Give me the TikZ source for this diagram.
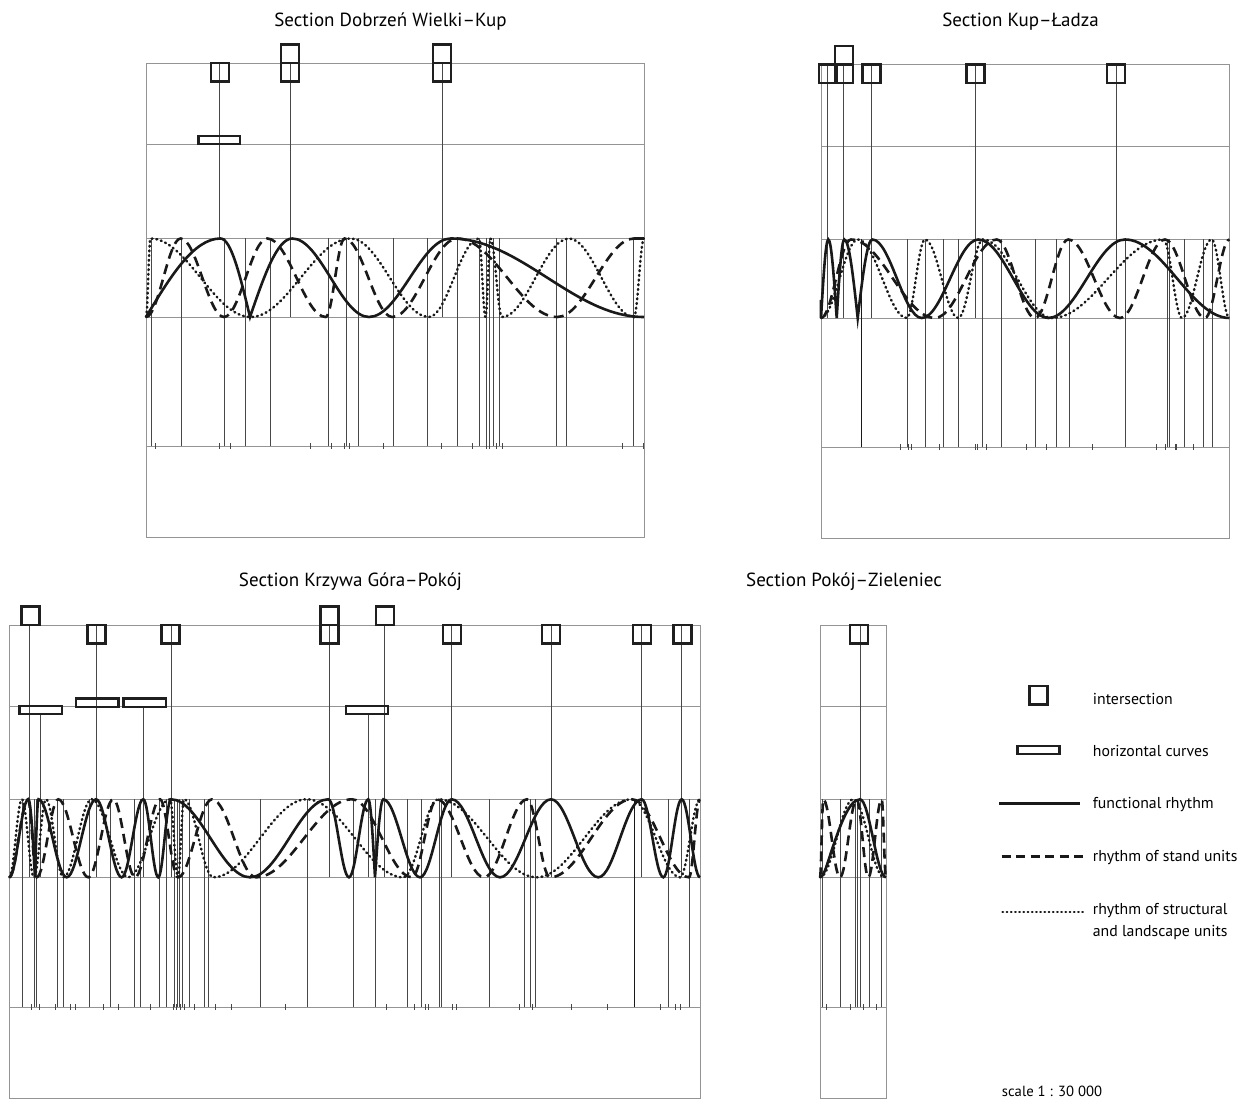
\documentclass[tikz,border=0pt]{standalone}
\usepackage{fontspec}
\setmainfont{PT Sans}
\tikzset{
  frameln/.style={draw=black!42, line width=0.9pt},
  vline/.style={draw=black!72, line width=0.65pt},
  tickln/.style={draw=black!72, line width=0.65pt},
  sqbox/.style={draw=black!88, line width=2.4pt},
  solidc/.style={draw=black!90, line width=2.6pt},
  dashc/.style={draw=black!90, line width=2.6pt, dash pattern=on 10pt off 6pt},
  dotc/.style={draw=black!90, line width=2.5pt, dash pattern=on 0.9pt off 3.8pt, line cap=round},
  ttl/.style={font=\fontsize{19}{22}\selectfont, inner sep=0pt, anchor=base},
  lgt/.style={font=\fontsize{15.8}{19}\selectfont, inner sep=0pt, anchor=base west}
}
% frame: left right top l1 T B base bottom
\newcommand\mypanel[8]{%
  \draw[frameln] (#1,#3) rectangle (#2,#8);
  \foreach \yy in {#4,#5,#6,#7} {\draw[frameln] (#1,\yy) -- (#2,\yy);}
}
\newcommand\mylines[3]{\foreach \xx in {#3} {\draw[vline] (\xx,#1) -- (\xx,#2);}}
\newcommand\myticks[2]{\foreach \xx in {#2} {\draw[tickln] (\xx,{#1-3}) -- (\xx,{#1+3});}}
\newcommand\mysq[2]{\draw[sqbox] ({#1-9},#2) rectangle ({#1+9},{#2+18.5});}
% style, top, bottom, x0, y0, parity(0: first target top), list x/f
\newcommand\mywave[7]{%
  \draw[#1] (#4,#5)
    foreach \x/\f [remember=\x as \px (initially #4), count=\i] in {#7}
    { cos ({\px+\f*(\x-\px)},{(mod(\i+#6,2)==1) ? (#3+\f*(#2-#3)) : (#2+\f*(#3-#2))})
      sin (\x,{(mod(\i+#6,2)==1) ? #2 : #3}) };
}
\begin{document}
\begin{tikzpicture}[x=1pt,y=-1pt]
\useasboundingbox (0,0) rectangle (1245,1099);

% ---------------- titles
\node[ttl] (t1) at (390.5,26.5) {Section Dobrzeń Wielki–Kup};
\node[ttl] (t2) at (1020.5,26.5) {Section Kup–Ładza};
\node[ttl] (t3) at (350.5,586.5) {Section Krzywa Góra–Pokój};
\node[ttl] (t4) at (844,586.5) {Section Pokój–Zieleniec};

% ---------------- panel 1
\mypanel{146}{644}{63}{144}{238.5}{317}{446}{537}
\mylines{238.5}{446}{151.7,181.5,224,245.7,270.7,328.5,346.5,358.8,393.8,427.3,457.5,479.5,486,489.5,493.5,499.5,556.7,566,633}
\mylines{63}{238.5}{219.8}
\mylines{63}{317}{290,442.2}
\myticks{446}{155,219.3,230,310.7,331.7,344,349.3,383,441.3,472.7,486.7,489.3,496.7,502,622,643.3}
\mysq{219.8}{63}
\mysq{290}{63}\mysq{290}{44.5}
\mysq{442.2}{63}\mysq{442.2}{44.5}
\draw[sqbox] (198.3,136) rectangle (240,144);
\mywave{solidc}{238.5}{317}{146}{317}{0}{220.5/0,250/1,292.3/0,369/.5,450.7/.5,644/.5}
\mywave{dashc}{238.5}{317}{146}{317}{0}{180.7/.5,224/.5,267.3/.5,325.7/.5,344.5/.5,392.3/.5,457.3/.5,557.3/.5,634/.5}
\draw[dashc] (634,238.5) -- (644,238.5);
\mywave{dotc}{238.5}{317}{146}{317}{0}{150.5/.5,250.7/.5,350.7/.5,429/.5,479/.5,485.5/.5,490.5/.5,502/.5,569/.5,634/.5,644/.5}

% ---------------- panel 2
\mypanel{821}{1229.5}{64.7}{146}{239.5}{318}{447}{538.3}
\mylines{239.5}{447}{907,925,943.7,958.7,982.3,1001.3,1035.3,1056.3,1069.7,1125.3,1167.7,1169.3,1184,1203.7,1212}
\draw[vline, line width=1pt, draw=black!90] (861.7,239.5) -- (861.7,447);
\mylines{64.7}{318}{827.5,843,871.5,975.5,1116}
\myticks{447}{900,908.3,911.7,939.3,975.7,977.3,986.7,1026,1046.3,1092.7,1156.7,1165.3,1175.3,1176.7,1193.3}
\mysq{828}{64.7}
\mysq{844}{64.7}\mysq{844}{46.2}
\mysq{871.5}{64.7}
\mysq{975.5}{64.7}
\mysq{1116}{64.7}
\mywave{solidc}{239.5}{318}{821}{300}{0}{828.3/0,836.7/1,844.3/0,857.7/1,872.3/0,921.7/.5,978.3/.5,1048.3/.5,1125/.5,1229.5/.5}
\mywave{dashc}{239.5}{318}{821}{318}{0}{851/.5,935/.5,996.7/.5,1035/.5,1068.3/.5,1120/.5,1165/.5,1205/.5,1229.5/.5}
\mywave{dotc}{239.5}{318}{821}{318}{0}{858/.5,906.7/.5,925/.5,958.3/.5,983/.5,1052/.5,1163.3/.5,1182/.5,1211.7/.5,1229.5/.5}

% ---------------- panel 3
\mypanel{9.3}{700}{625}{706}{799.3}{877.3}{1007.3}{1098.3}
\mylines{799.3}{1007.3}{22.8,34.3,36.7,57.7,63.5,89.4,110.7,134.5,140.5,159,166.3,174,177,179.6,182.5,189.6,204,208.5,260,307,353.3,375.7,407,421.7,439,441,489,524.5,530,535.7,668.5,689.3}
\draw[vline, line width=1pt, draw=black!90] (634,799.3) -- (634,1007.3);
\mylines{625}{877.3}{29,96,171,329,384,451.7,551,641.7,681.7}
\mylines{714}{877.3}{40,368.3}
\mylines{706.7}{877.3}{143.3}
\myticks{1007.3}{31,39.2,55.5,70.4,75.8,103.8,118.8,150,173.1,176.7,179.9,184.4,193.9,215.3,231.1,285.6,386.1,414.7,425.1,428.2,452.2,456.3,519.3,532,570.9,607.2,660.6,675.1,680.5}
\mysq{30.3}{606.5}
\mysq{96.5}{625}
\mysq{170.5}{625}
\mysq{329.5}{625}\mysq{329.5}{606.5}
\mysq{385}{606.5}
\mysq{451.8}{625}
\mysq{551}{625}
\mysq{642}{625}
\mysq{682.5}{625}
\draw[sqbox] (19.3,706) rectangle (61.7,714);
\draw[sqbox] (76,698.3) rectangle (118.3,706.7);
\draw[sqbox] (123.3,698.3) rectangle (165.7,706.7);
\draw[sqbox] (345.7,706) rectangle (387.7,714);
\mywave{solidc}{799.3}{877.3}{9.3}{877.3}{0}{28.3/.5,35/1,38.5/0,66.7/.5,96/.5,121.7/.5,143.3/.5,158.3/.5,171/.5,250/.5,328.3/.5,349/.5,368.3/.5,375/1,383.3/0,420/.5,451.7/.5,500/.5,551/.5,598.3/.5,641.7/.5,663.3/.5,681.7/.5,700/.5}
\mywave{dashc}{799.3}{877.3}{9.3}{877.3}{0}{28/.5,36.7/.5,58.3/.5,88.3/.5,113.3/.5,135/.5,160/.5,178/.5,212/.5,256/.5,352/.5,412/.5,437/.5,484/.5,527/.5,550/.5,632/.5,689/.5,700/.5}
\mywave{dotc}{799.3}{877.3}{9.3}{877.3}{0}{22/.5,34/.5,46/.5,63.3/.5,91.7/.5,128.3/.5,170/.5,178/.5,184/.5,213.3/.5,306.7/.5,403.3/.5,438.3/.5,536.7/.5,631.7/.5,680/.5,700/.5}

% ---------------- panel 4
\mypanel{820}{886}{625}{706}{799.3}{877.3}{1007}{1098.3}
\mylines{799.3}{1007}{822.7,840,855,857.3,869,881.7}
\mylines{625}{1007}{860}
\myticks{1007}{826.7,850,863.3,876}
\mysq{858.7}{625}
\mywave{solidc}{799.3}{877.3}{820}{877.3}{0}{860/.2,886/.5}
\mywave{dashc}{799.3}{877.3}{820}{877.3}{0}{823.3/.5,840/.5,856.7/.5,868.3/.5,881.7/.5,886/.5}
\mywave{dotc}{799.3}{877.3}{820}{877.3}{0}{853.3/.5,884/.5}

% ---------------- legend
\draw[sqbox] (1029.3,686) rectangle (1047.3,704.3);
\node[lgt] (l1) at (1092.7,704) {intersection};
\draw[sqbox] (1017.3,746) rectangle (1059.3,754);
\node[lgt] (l2) at (1092.7,756.5) {horizontal curves};
\coordinate (s1) at (999.3,803.3); \coordinate (s2) at (1080,803.3);
\draw[solidc] (s1) -- (s2);
\node[lgt] (l3) at (1092.7,808.3) {functional rhythm};
\coordinate (d1) at (1001.7,856.7); \coordinate (d2) at (1083.3,856.7);
\draw[dashc, dash pattern=on 9pt off 5.5pt] (d1) -- (d2);
\node[lgt] (l4) at (1092.7,861.5) {rhythm of stand units};
\coordinate (o1) at (1002.5,911.7); \coordinate (o2) at (1083.3,911.7);
\draw[dotc, line width=2.3pt, dash pattern=on 0.6pt off 3.6pt] (o1) -- (o2);
\node[lgt] (l5) at (1092.7,914.8) {rhythm of structural};
\node[lgt] (l6) at (1092.7,936.6) {and landscape units};
\node[lgt, font=\fontsize{14.7}{17}\selectfont] (sc) at (1001.7,1096.5) {scale 1 : 30 000};
\end{tikzpicture}
\end{document}
